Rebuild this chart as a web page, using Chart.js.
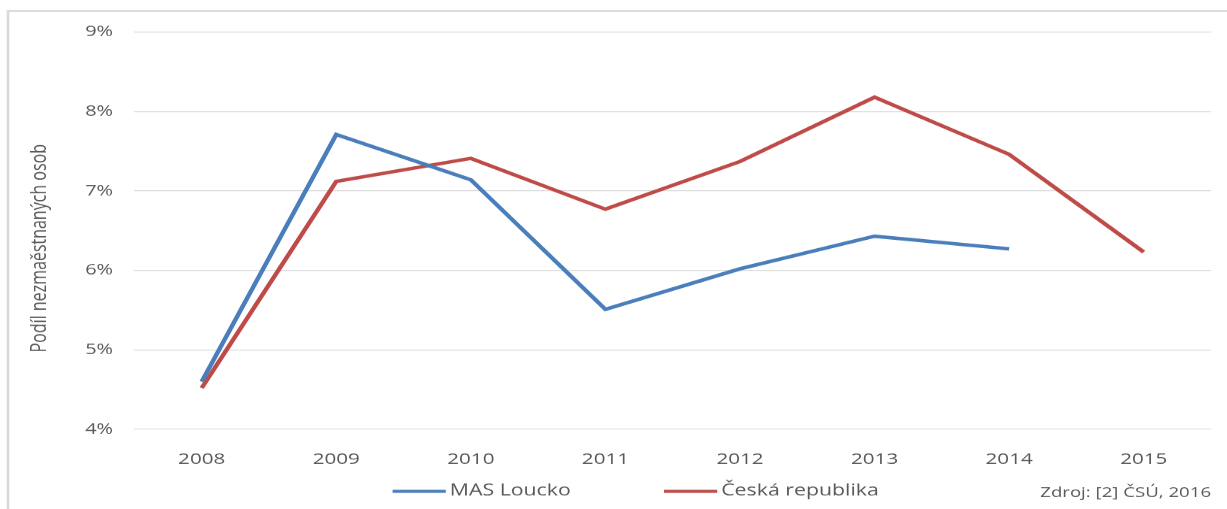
<!DOCTYPE html>
<html>
<head>
<meta charset="utf-8">
<script src="https://cdn.jsdelivr.net/npm/chart.js@4/dist/chart.umd.min.js"></script>
<style>
  html, body { margin: 0; padding: 0; background: #fff; }
</style>
</head>
<body>
<canvas id="chart" width="922" height="509" style="display:block;width:1227px;height:509px"></canvas>
<script>
// data (percent)
const years = ['2008', '2009', '2010', '2011', '2012', '2013', '2014', '2015']
const masLoucko = [4.60, 7.71, 7.14, 5.51, 6.02, 6.43, 6.27, null]
const ceskaRepublika = [4.52, 7.12, 7.41, 6.77, 7.37, 8.18, 7.46, 6.23]
const seriesNames = ['MAS Loucko', 'Česká republika']
const yTicks = [4, 5, 6, 7, 8, 9]
const yTitle = 'Podíl nezmaěstnaných osob'
const sourceText = 'Zdroj: [2] ČSÚ, 2016'

const textColor = '#595959'
const gridColor = '#d9d9d9'
const font = '"Open Sans", "Noto Sans", sans-serif'

// the original picture is stretched sideways, so draw narrower and stretch with css
const stretch = 1227 / 922

const frameAndLegend = {
  id: 'frameAndLegend',
  beforeDraw(chart) {
    let ctx = chart.ctx
    ctx.save()
    ctx.strokeStyle = gridColor
    ctx.lineWidth = 2
    ctx.strokeRect(6, 11, chart.width + 20, chart.height + 20)
    ctx.restore()
  },
  afterDraw(chart) {
    let ctx = chart.ctx
    let y = 491
    let x = chart.chartArea.left + 194
    ctx.save()
    ctx.font = '16px ' + font
    ctx.textBaseline = 'middle'
    ctx.fillStyle = textColor
    for (let ds of chart.data.datasets) {
      ctx.strokeStyle = ds.borderColor
      ctx.lineWidth = 3
      ctx.beginPath()
      ctx.moveTo(x, y)
      ctx.lineTo(x + 40, y)
      ctx.stroke()
      x += 43
      ctx.fillText(ds.label, x, y)
      x += ctx.measureText(ds.label).width + 70
    }
    ctx.font = '14px ' + font
    ctx.textAlign = 'right'
    ctx.fillText(sourceText, chart.chartArea.right, 493)

    // axis title sits a bit below the middle of the plot in the original
    ctx.translate(30, 248)
    ctx.rotate(-Math.PI / 2)
    ctx.font = '16px ' + font
    ctx.textAlign = 'center'
    ctx.fillText(yTitle, 0, 0)
    ctx.restore()
  }
}

const chart = new Chart(document.getElementById('chart'), {
  type: 'line',
  data: {
    labels: years,
    datasets: [{
      label: seriesNames[0],
      data: masLoucko,
      borderColor: '#4a7ebb',
      backgroundColor: '#4a7ebb',
      borderWidth: 3.5,
      pointRadius: 0,
      tension: 0
    }, {
      label: seriesNames[1],
      data: ceskaRepublika,
      borderColor: '#be4b48',
      backgroundColor: '#be4b48',
      borderWidth: 3.5,
      pointRadius: 0,
      tension: 0
    }]
  },
  options: {
    responsive: false,
    animation: false,
    devicePixelRatio: stretch,
    layout: {
      padding: { left: 12, right: 12, top: 32, bottom: 45 }
    },
    plugins: {
      legend: { display: false },
      tooltip: { enabled: false }
    },
    scales: {
      x: {
        offset: true,
        grid: { display: false },
        border: { display: false },
        ticks: {
          color: textColor,
          font: { family: font, size: 15.5 },
          padding: 13,
          maxRotation: 0
        },
        afterFit(scale) { scale.height = 35 }
      },
      y: {
        min: yTicks[0],
        max: yTicks[yTicks.length - 1],
        grid: { color: gridColor, lineWidth: 1, drawTicks: false },
        border: { display: false },
        ticks: {
          stepSize: 1,
          color: textColor,
          font: { family: font, size: 15 },
          padding: 16,
          callback: (v) => v + '%'
        },
        afterFit(scale) { scale.width = 89 }
      }
    }
  },
  plugins: [frameAndLegend]
})
</script>
</body>
</html>
